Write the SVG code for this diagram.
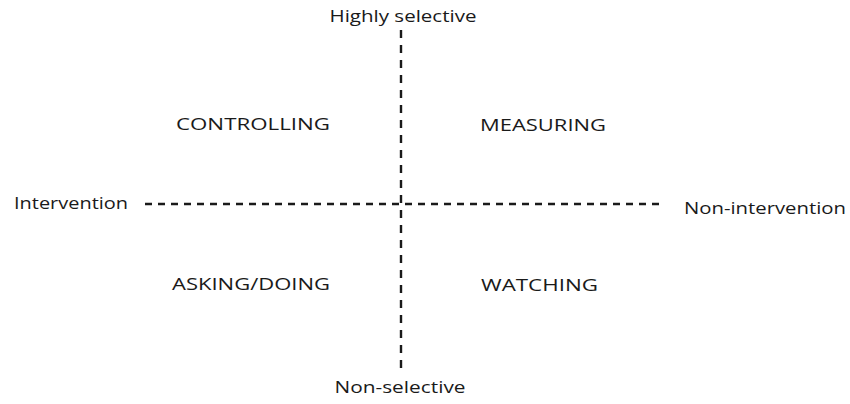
<svg xmlns="http://www.w3.org/2000/svg" width="850" height="404" viewBox="0 0 850 404">
<style>
text{font-family:"Open Sans","DejaVu Sans",sans-serif;font-size:17px;fill:#1a1a1a}
.q{font-size:17px}
.axis{stroke:#1a1a1a;stroke-width:2.4;fill:none}
</style>
<rect width="850" height="404" fill="#fff"/>
<g id="connectors">
<line class="axis" x1="401" y1="30" x2="401" y2="372" stroke-dasharray="8,7"/>
<line class="axis" x1="145" y1="204" x2="665" y2="204" stroke-dasharray="7,6"/>
</g>
<g id="top"><text x="403" y="22" text-anchor="middle" textLength="147" lengthAdjust="spacingAndGlyphs">Highly selective</text></g>
<g id="bottom"><text x="400" y="393" text-anchor="middle" textLength="131" lengthAdjust="spacingAndGlyphs">Non-selective</text></g>
<g id="left"><text x="14" y="209" textLength="114" lengthAdjust="spacingAndGlyphs">Intervention</text></g>
<g id="right"><text x="684" y="214" textLength="162" lengthAdjust="spacingAndGlyphs">Non-intervention</text></g>
<g id="controlling"><text class="q" x="176" y="130" textLength="154" lengthAdjust="spacingAndGlyphs">CONTROLLING</text></g>
<g id="measuring"><text class="q" x="480" y="131" textLength="126" lengthAdjust="spacingAndGlyphs">MEASURING</text></g>
<g id="asking"><text class="q" x="172" y="290" textLength="158" lengthAdjust="spacingAndGlyphs">ASKING/DOING</text></g>
<g id="watching"><text class="q" x="481" y="291" textLength="117" lengthAdjust="spacingAndGlyphs">WATCHING</text></g>
</svg>
